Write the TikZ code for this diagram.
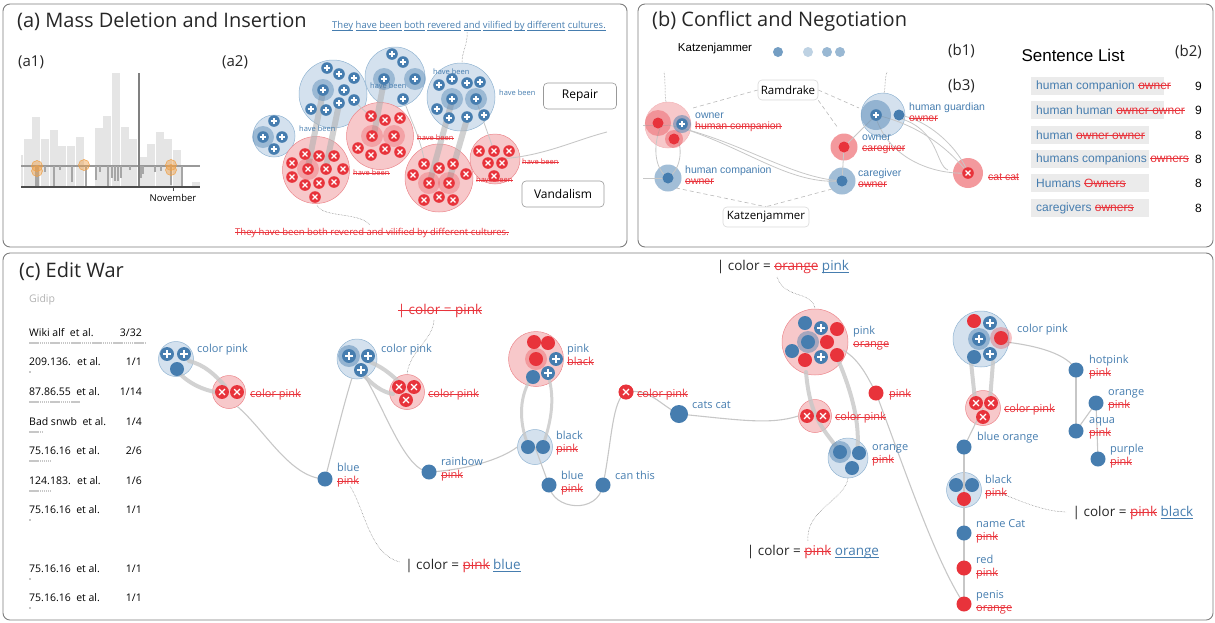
\documentclass[tikz,border=0pt]{standalone}
\usepackage{fontspec}
\setmainfont{Open Sans}
\newfontfamily\arialf{Liberation Sans}
\usetikzlibrary{calc}
\pgfdeclarelayer{back}
\pgfdeclarelayer{mid}
\pgfsetlayers{back,mid,main}
\definecolor{blueD}{RGB}{70,125,175}
\definecolor{redD}{RGB}{232,51,59}
\definecolor{bfill}{RGB}{212,225,238}
\definecolor{bline}{RGB}{145,180,210}
\definecolor{rfill}{RGB}{247,200,202}
\definecolor{rline}{RGB}{236,135,140}
\definecolor{orangeC}{RGB}{240,160,70}
\definecolor{frameC}{RGB}{125,125,125}
\newcommand\fsz[2]{\fontsize{#1}{#2}\selectfont}
\newcommand\bl[1]{{\color{blueD}#1}}
\newcommand\stk[1]{{\color{redD}\setbox0\hbox{#1}\rlap{\rule[0.28em]{\wd0}{0.07em}}\box0}}
\newcommand\uw[1]{{\setbox0\hbox{#1}\rlap{\rule[-0.2em]{\wd0}{0.07em}}\box0}}
\newcommand\ulb[1]{{\color{blueD}\uw{#1}}}
\tikzset{
 pp/.pic={\fill[blueD] (0,0) circle (5.8pt); \draw[white,line width=1.4pt] (-3.3pt,0)--(3.3pt,0) (0,-3.3pt)--(0,3.3pt);},
 px/.pic={\fill[redD] (0,0) circle (5.8pt); \draw[white,line width=1.3pt] (-2.4pt,-2.4pt)--(2.4pt,2.4pt) (-2.4pt,2.4pt)--(2.4pt,-2.4pt);},
}
\begin{document}
\begin{tikzpicture}[x=1pt,y=-1pt,
 panel/.style={draw=frameC, line width=0.9pt, rounded corners=7pt},
 ptitle/.style={font=\fsz{20}{22}, anchor=west, inner sep=0, text=black!85},
 sub/.style={font=\fsz{15}{17}, anchor=west, inner sep=0, text=black!85},
 bclus/.style={circle, fill=bfill, draw=bline, line width=0.5pt, inner sep=0},
 rclus/.style={circle, fill=rfill, draw=rline, line width=0.5pt, inner sep=0},
 bdot/.style={circle, fill=blueD, inner sep=0, minimum size=15pt},
 rdot/.style={circle, fill=redD, inner sep=0, minimum size=15pt},
 bandE/.style={draw=black!22, line width=4pt, opacity=.8, line cap=round},
 bandA/.style={draw=black!30, line width=6pt, opacity=.6, line cap=round},
 edgeT/.style={draw=black!22, line width=1.1pt},
 dotl/.style={draw=black!55, densely dotted, line width=0.5pt},
 dashl/.style={draw=black!28, dash pattern=on 4pt off 3pt, line width=0.6pt},
 lbox/.style={draw=black!40, rounded corners=4pt, fill=white, line width=0.6pt, font=\fsz{12}{14}, inner sep=0, text=black},
 lab/.style={font=\fsz{11}{13}, align=left, anchor=west, inner sep=0},
 labb/.style={font=\arialf\fsz{10.5}{11}, align=left, anchor=west, inner sep=0},
 hb/.style={font=\fsz{7.5}{8}, anchor=west, inner sep=0},
 ann/.style={font=\fsz{13.5}{15}, inner sep=0, text=black!85},
 slt/.style={font=\arialf\fsz{12}{14}, anchor=west, inner sep=0},
 lst/.style={font=\fsz{10.5}{12}, inner sep=0},
]
\useasboundingbox (0,0) rectangle (1215,622);
% ---------------- panels
\draw[panel] (3,4) rectangle (627,247);
\draw[panel] (638,4) rectangle (1213,247);
\draw[panel] (3,253) rectangle (1213,620);
\node[ptitle] (ta) at (17,21) {(a) Mass Deletion and Insertion};
\node[ptitle] (tb) at (652,21) {(b) Conflict and Negotiation};
\node[ptitle] (tc) at (19,271) {(c) Edit War};
\node[sub] (a1) at (18,62) {(a1)};
\node[sub] (a2) at (222,62) {(a2)};
% ---------------- (a1) chart
\fill[black!10] (21,155) rectangle (23,187);
\foreach \x/\t in {23.5/139,32.2/117,40.9/139,49.6/130,58.3/146,67/146,75.7/137,94.5/128,103.2/116,111.9/73,120.6/127,129.3/139,139.8/157,147/144,155.7/132,164.4/139,173.1/150,191.7/182}
  \fill[black!10] (\x,\t) rectangle ({\x+8},187);
\draw[black!40, line width=1.2pt] (21,166) -- (200,166);
\foreach \x/\b in {36/187,38/187,45/172,54/187,60/170,72/182,86/187,96/180,100/172,108/187,112/178,115/181,118/181,121/178,130/170,141/178,143/174,155/172,161/171,171/185,182/187}
  \draw[black!35, line width=1.2pt] (\x,166) -- (\x,\b);
\draw[black!50, line width=1.3pt] (139,73) -- (139,187);
\draw[black!70, line width=1.2pt] (21,187) -- (200,187);
\draw[black!70, line width=0.8pt] (173,187) -- (173,191);
\node[font=\fsz{9.5}{11}, inner sep=0] (nov) at (173,198) {November};
\foreach \x/\y in {37/166,37/171,84/165,171/165,171/170}
  \filldraw[fill=orangeC, fill opacity=.45, draw=orangeC, line width=0.5pt] (\x,\y) circle (5.5pt);
% ---------------- (a2) clusters
\node[bclus, minimum size=42pt] (B1) at (274,136) {};
\node[bclus, minimum size=68pt] (B2) at (333,94) {};
\node[bclus, minimum size=60pt] (B3) at (395,77) {};
\node[bclus, minimum size=68pt] (B4) at (461,97) {};
\node[rclus, minimum size=67pt] (R1) at (316,170) {};
\node[rclus, minimum size=67pt] (R2) at (380,136) {};
\node[rclus, minimum size=68pt] (R3) at (439,178) {};
\node[rclus, minimum size=50pt] (R4) at (495,159) {};
% bands and edges
\draw[bandA] (323,92) -- (308,167);
\draw[bandA] (339,104) -- (326,167);
\draw[bandA] (384,81) -- (374,134);
\draw[bandA] (452,101) -- (430,181);
\draw[bandA] (467,119) -- (449,181);
\draw[edgeT, line width=0.8pt] (354,101) -- (370,116);
\draw[edgeT, line width=0.8pt] (404,100) .. controls (410,120) and (420,135) .. (425,164);
\draw[edgeT, line width=0.8pt] (476,100) -- (494,151);
\draw[edgeT, line width=0.9pt] (R4.center) .. controls (540,158) and (575,140) .. (607,132);
% labels
\node[hb, text=blueD] (hb1) at (299,129) {have been};
\node[hb, text=blueD] (hb2) at (370,86) {have been};
\node[hb, text=blueD] (hb3) at (433,72) {have been};
\node[hb, text=blueD] (hb4) at (499,93) {have been};
\node[hb] (hr1) at (353,173) {\stk{have been}};
\node[hb] (hr2) at (417,138) {\stk{have been}};
\node[hb] (hr3) at (522,162) {\stk{have been}};
\node[hb] (hr4) at (476,180) {\stk{have been}};
% halos
\foreach \x/\y in {263/137,323/90,384/79,415/79,452/99,476/99}
  \fill[blueD, opacity=.4] (\x,\y) circle (11pt);
\foreach \x/\y in {308/169,372/136,394/136,429/183,449/183}
  \fill[redD, opacity=.25] (\x,\y) circle (11pt);
% plus dots
\foreach \x/\y in {274/121,263/137,282/137,274/149,
  327/68,339/74,354/78,323/90,344/90,354/100,339/103,311/109,326/110,
  392/54,403/62,384/79,415/79,403/99,
  439/85,452/79,467/83,480/82,452/99,476/99,437/109,449/118,467/117,484/115}
  \pic at (\x,\y) {pp};
% x dots
\foreach \x/\y in {305/154,319/156,334/156,292/163,308/169,326/169,343/169,292/177,305/185,319/183,334/182,315/197,
  371/116,385/120,400/118,372/136,394/136,358/148,371/155,385/149,400/152,
  424/164,439/168,453/164,413/175,466/174,429/183,449/183,424/200,439/197,453/200,
  479/151,494/151,509/151,488/163,502/163,494/176}
  \pic at (\x,\y) {px};
% sentences
\node[font=\fsz{9.5}{11}, text=blueD, inner sep=0] (sTop) at (469,26) {\uw{They} \uw{have} \uw{been} \uw{both} \uw{revered} \uw{and} \uw{vilified} \uw{by} \uw{different} \uw{cultures.}};
\node[font=\fsz{9.5}{11}, inner sep=0] (sBot) at (372,233) {\stk{They have been both revered and vilified by different cultures.}};
\draw[dotl] (467,32) .. controls (468,45) and (462,50) .. (462,63);
\draw[dotl] (317,205) .. controls (322,218) and (360,212) .. (370,225);
\node[lbox, minimum width=73pt, minimum height=26pt] (rep) at (580,96) {Repair};
\node[lbox, minimum width=82pt, minimum height=26pt] (van) at (563,194) {Vandalism};
% ---------------- (b)
\node[font=\arialf\fsz{11.5}{13}, inner sep=0] (kz) at (715,49) {Katzenjammer};
\fill[blueD, opacity=.75] (778,52) circle (5pt);
\fill[blueD, opacity=.35] (808,52) circle (5pt);
\fill[blueD, opacity=.55] (827,52) circle (5pt);
\fill[blueD, opacity=.55] (840,52) circle (5pt);
\node[sub] (b1) at (948,51) {(b1)};
\node[sub] (b3) at (948,86) {(b3)};
\node[sub] (b2) at (1175,52) {(b2)};
\node[font=\arialf\fsz{17}{19}, inner sep=0] (sl) at (1073,55) {Sentence List};
% sentence list rows
\foreach \y/\r in {86/1164,110/1164,135/1149,159/1149,183/1149,208/1149}
  \fill[black!8] (1031,{\y-9}) rectangle (\r,{\y+9});
\node[slt] (r1) at (1036,86) {\bl{human companion} \stk{owner}};
\node[slt] (r2) at (1036,110) {\bl{human human} \stk{owner owner}};
\node[slt] (r3) at (1036,135) {\bl{human} \stk{owner owner}};
\node[slt] (r4) at (1036,159) {\bl{humans companions} \stk{owners}};
\node[slt] (r5) at (1036,183) {\bl{Humans} \stk{Owners}};
\node[slt] (r6) at (1036,208) {\bl{caregivers} \stk{owners}};
\node[slt] (c1) at (1195,86) {9};
\node[slt] (c2) at (1195,110) {9};
\node[slt] (c3) at (1195,135) {8};
\node[slt] (c4) at (1195,159) {8};
\node[slt] (c5) at (1195,183) {8};
\node[slt] (c6) at (1195,208) {8};
% graph (b)
\begin{pgfonlayer}{back}
\node[rclus, minimum size=46pt, draw=rline!60] (L) at (668,125) {};
\node[circle, fill=blueD, opacity=.5, minimum size=27pt, inner sep=0] (HC) at (668,178) {};
\node[circle, fill=redD, opacity=.5, minimum size=27pt, inner sep=0] (OC) at (844,147) {};
\node[circle, fill=blueD, opacity=.5, minimum size=27pt, inner sep=0] (CO) at (842,181) {};
\node[bclus, minimum size=44pt] (HG) at (883,115) {};
\node[circle, fill=redD, opacity=.5, minimum size=30pt, inner sep=0] (CC) at (968,173) {};
\end{pgfonlayer}
\node[lbox, minimum width=60pt, minimum height=20pt, font=\fsz{11.5}{13}, draw=black!15] (ram) at (788,90) {Ramdrake};
\node[lbox, minimum width=86pt, minimum height=20pt, font=\fsz{11.5}{13}, draw=black!15] (kat) at (766,217) {Katzenjammer};
\begin{pgfonlayer}{mid}
\draw[dashl] (ram.west) -- (693,108);
\draw[dashl] (ram.east) -- (859,108);
\draw[dashl] (ram.south east) -- (838,128);
\draw[dashl] (676,188) -- (kat.north);
\draw[dashl] (832,189) -- (kat.north);
\draw[dotl] (666,102) .. controls (664,90) and (666,82) .. (664,72);
\draw[dotl] (884,93) .. controls (886,85) and (884,80) .. (887,72);
\draw[edgeT, line width=0.8pt] (L.center) .. controls (740,140) and (790,178) .. (CO.center);
\draw[edgeT, line width=0.8pt] (682,128) .. controls (750,150) and (790,185) .. (CO.center);
\draw[edgeT, line width=0.8pt] (660,128) .. controls (652,150) and (656,170) .. (HC.center);
\draw[edgeT, line width=0.8pt] (676,135) .. controls (684,150) and (680,170) .. (HC.center);
\draw[edgeT, line width=0.8pt] (643,125) -- (L.center);
\draw[edgeT, line width=0.8pt] (643,178) -- (HC.center);
\draw[edgeT, line width=0.8pt] (OC.center) -- (CO.center);
\draw[edgeT, line width=0.8pt] (OC.center) -- (876,115);
\draw[edgeT, line width=0.8pt] (876,115) .. controls (920,125) and (950,150) .. (CC.center);
\draw[edgeT, line width=0.8pt] (899,115) .. controls (930,120) and (960,150) .. (CC.center);
\draw[edgeT, line width=0.8pt] (876,118) .. controls (890,160) and (935,175) .. (CC.center);
\draw[edgeT, line width=0.8pt] (899,118) .. controls (940,130) and (935,165) .. (948,170);
\end{pgfonlayer}
% dots (b)
\fill[redD, opacity=.35] (658,123) circle (13pt);
\fill[redD] (658,123) circle (5.5pt);
\fill[redD, opacity=.35] (674,139) circle (9pt);
\fill[redD] (674,139) circle (5.5pt);
\fill[blueD, opacity=.5] (682,124) circle (9pt);
\pic at (682,124) {pp};
\fill[blueD] (HC) circle (5.5pt);
\fill[redD] (OC) circle (5.5pt);
\fill[blueD] (CO) circle (5.5pt);
\fill[blueD, opacity=.45] (876,115) circle (15pt);
\pic at (876,115) {pp};
\fill[blueD] (899,115) circle (5.5pt);
\pic at (CC) {px};
\node[labb] (Ll) at (695,122.5) {\bl{owner}\\\stk{human companion}};
\node[labb] (HCl) at (685,175.5) {\bl{human companion}\\\stk{owner}};
\node[labb] (OCl) at (862,144) {\bl{owner}\\\stk{caregiver}};
\node[labb] (COl) at (858,178.5) {\bl{caregiver}\\\stk{owner}};
\node[labb] (HGl) at (909,112) {\bl{human guardian}\\\stk{owner}};
\node[labb] (CCl) at (988,177) {\stk{cat cat}};
% ---------------- (c) list
\node[font=\fsz{10.5}{12}, text=black!30, anchor=west, inner sep=0] (gid) at (29,300) {Gidip};
\foreach \i/\t/\a/\b/\y/\l in {1/Wiki alf~ et al./3/32/333/117,2/209.136.~ et al./1/1/362/2,3/87.86.55~ et al./1/14/392/51,4/Bad snwb~ et al./1/4/422/14,5/75.16.16~ et al./2/6/451/22,6/124.183.~ et al./1/6/481/22,7/75.16.16~ et al./1/1/510/2,8/75.16.16~ et al./1/1/569/2,9/75.16.16~ et al./1/1/598/2}{
  \node[lst, anchor=west] (u\i) at (29,\y) {\t};
  \node[lst, anchor=east] (v\i) at (142,\y) {\a/\b};
  \draw[black!22, line width=2pt, dash pattern=on 1.5pt off 0.6pt] (29,{\y+10}) -- ++(\l,0);
}
% ---------------- (c) graph
\begin{pgfonlayer}{back}
\node[bclus, minimum size=35pt] (N1) at (176,359) {};
\node[rclus, minimum size=33pt] (N2) at (229,392) {};
\node[bclus, minimum size=40pt] (N4) at (357,359) {};
\node[rclus, minimum size=35pt] (N5) at (407,392) {};
\node[rclus, minimum size=55pt] (N7) at (536,359) {};
\node[bclus, minimum size=35pt] (N8) at (535,447) {};
\node[rclus, minimum size=66pt] (N13) at (815,342) {};
\node[rclus, minimum size=33pt] (N15) at (815,416) {};
\node[bclus, minimum size=40pt] (N16) at (848,458) {};
\node[bclus, minimum size=56pt] (N17) at (981,339) {};
\node[rclus, minimum size=35pt] (N18) at (983,408) {};
\node[bclus, minimum size=35pt] (N20) at (964,490) {};
\end{pgfonlayer}
\node[bdot] (N3) at (325,479) {};
\node[bdot] (N6) at (429,472) {};
\node[bdot] (N9) at (549,485) {};
\node[bdot] (N10) at (603,485) {};
\node[rdot] (N11) at (626,392) {};
\node[bdot, minimum size=18pt] (N12) at (679,414) {};
\node[rdot] (N14) at (876,393) {};
\node[bdot] (N19) at (964,447) {};
\node[bdot] (N21) at (964,533) {};
\node[rdot] (N22) at (964,568) {};
\node[rdot] (N23) at (964,604) {};
\node[bdot] (N24) at (1076,370) {};
\node[bdot] (N25) at (1096,403) {};
\node[bdot] (N26) at (1076,431) {};
\node[bdot] (N27) at (1098,459) {};
\begin{pgfonlayer}{mid}
% bands
\draw[bandE] (189,361) .. controls (205,365) and (215,375) .. (225,386);
\draw[bandE] (177,371) .. controls (190,385) and (205,390) .. (215,392);
\draw[bandE] (370,362) .. controls (385,368) and (395,378) .. (402,385);
\draw[bandE] (361,372) .. controls (372,385) and (382,392) .. (393,394);
\draw[bandE, line width=3pt] (530,380) .. controls (518,400) and (520,425) .. (528,445);
\draw[bandE, line width=3pt] (548,375) .. controls (556,400) and (550,425) .. (543,445);
\draw[bandE] (806,372) .. controls (810,420) and (825,430) .. (840,452);
\draw[bandE] (839,362) .. controls (855,400) and (860,430) .. (857,452);
\draw[bandE] (971,362) -- (975,400);
\draw[bandE] (993,362) -- (990,400);
% thin edges
\draw[edgeT] (N2.-60) .. controls (265,430) and (290,478) .. (N3.center);
\draw[edgeT] (N3.center) .. controls (335,440) and (345,400) .. (352,378);
\draw[edgeT] (365,377) .. controls (385,410) and (405,470) .. (N6.center);
\draw[edgeT] (N6.center) .. controls (465,470) and (500,460) .. (N8.west);
\draw[edgeT] (N8.center) -- (N9.center);
\draw[edgeT] (N9.center) .. controls (552,510) and (598,515) .. (N10.center);
\draw[edgeT] (N10.center) .. controls (612,440) and (612,400) .. (N11.center);
\draw[edgeT] (N11.center) .. controls (650,388) and (660,405) .. (N12.center);
\draw[edgeT] (N12.center) .. controls (740,420) and (770,425) .. (N15.west);
\draw[edgeT] (843,350) .. controls (860,360) and (868,378) .. (N14.center);
\draw[edgeT] (N14.center) .. controls (905,470) and (935,560) .. (N23.center);
\draw[edgeT] (996,341) .. controls (1040,345) and (1068,355) .. (N24.center);
\draw[edgeT] (N24.center) -- (N26.center);
\draw[edgeT] (N26.center) -- (N25.center);
\draw[edgeT] (N25.center) -- (N27.center);
\draw[edgeT] (N18.center) -- (N19.center);
\draw[edgeT] (N19.center) -- (N20.center);
\draw[edgeT] (N20.center) -- (N21.center);
\draw[edgeT] (N21.center) -- (N22.center);
\draw[edgeT] (N22.center) -- (N23.center);
\end{pgfonlayer}
% dots in clusters (c)
\pic[scale=1.2] at (167,354) {pp}; \pic[scale=1.2] at (184,354) {pp};
\fill[blueD] (177,369) circle (7pt);
\pic[scale=1.2] at (222,392) {px}; \pic[scale=1.2] at (237,392) {px};
\fill[blueD, opacity=.45] (349,356) circle (11pt);
\pic[scale=1.2] at (349,356) {pp}; \pic[scale=1.2] at (368,356) {pp}; \pic[scale=1.2] at (361,370) {pp};
\pic[scale=1.2] at (399,387) {px}; \pic[scale=1.2] at (414,387) {px}; \pic[scale=1.2] at (406,400) {px};
\fill[redD] (534,342) circle (7pt); \fill[redD] (548,343) circle (7pt);
\fill[redD, opacity=.3] (536,359) circle (11pt); \fill[redD] (536,359) circle (7pt);
\pic[scale=1.2] at (556,359) {pp}; \fill[blueD] (533,377) circle (7pt); \pic[scale=1.2] at (548,373) {pp};
\fill[blueD] (528,447) circle (7pt); \fill[blueD] (543,447) circle (7pt);
\pic[scale=1.25] at (N11) {px};
\fill[blueD] (805,323) circle (7pt); \pic[scale=1.2] at (821,328) {pp}; \fill[redD] (837,329) circle (7pt);
\fill[blueD, opacity=.45] (808,342) circle (11pt); \fill[blueD] (808,342) circle (7pt);
\fill[redD] (827,342) circle (7pt); \fill[blueD] (792,351) circle (7pt); \fill[redD] (805,360) circle (7pt);
\pic[scale=1.2] at (821,357) {pp}; \fill[redD] (837,355) circle (7pt);
\pic[scale=1.2] at (807,416) {px}; \pic[scale=1.2] at (823,416) {px};
\fill[blueD, opacity=.45] (840,452) circle (11pt); \fill[blueD] (840,452) circle (7pt);
\fill[blueD] (859,453) circle (7pt); \fill[blueD] (852,468) circle (7pt);
\fill[redD] (974,321) circle (7pt); \pic[scale=1.2] at (990,323) {pp};
\fill[blueD, opacity=.45] (979,339) circle (11pt); \pic[scale=1.2] at (979,339) {pp};
\fill[redD, opacity=.3] (1001,338) circle (11pt); \fill[redD] (1001,338) circle (7pt);
\fill[blueD] (974,357) circle (7pt); \pic[scale=1.2] at (990,354) {pp};
\pic[scale=1.2] at (976,403) {px}; \pic[scale=1.2] at (991,403) {px}; \pic[scale=1.2] at (983,417) {px};
\fill[blueD] (956,485) circle (7pt); \fill[blueD] (972,485) circle (7pt); \fill[redD] (964,499) circle (7pt);
% labels (c)
\node[lab] (N1l) at (197,350) {\bl{color pink}};
\node[lab] (N2l) at (250,395) {\stk{color pink}};
\node[lab] (N3l) at (337,475) {\bl{blue}\\\stk{pink}};
\node[lab] (N4l) at (381,350) {\bl{color pink}};
\node[lab] (N5l) at (428,395) {\stk{color pink}};
\node[lab] (N6l) at (441,469) {\bl{rainbow}\\\stk{pink}};
\node[lab] (N7l) at (567,355) {\bl{pink}\\\stk{black}};
\node[lab] (N8l) at (556,443) {\bl{black}\\\stk{pink}};
\node[lab] (N9l) at (561,483) {\bl{blue}\\\stk{pink}};
\node[lab] (N10l) at (615,475) {\bl{can this}};
\node[lab] (N11l) at (637,395) {\stk{color pink}};
\node[lab] (N12l) at (692,405) {\bl{cats cat}};
\node[lab] (N13l) at (853,338) {\bl{pink}\\\stk{orange}};
\node[lab] (N14l) at (889,395) {\stk{pink}};
\node[lab] (N15l) at (835,418) {\stk{color pink}};
\node[lab] (N16l) at (872,455) {\bl{orange}\\\stk{pink}};
\node[lab] (N17l) at (1017,330) {\bl{color pink}};
\node[lab] (N18l) at (1004,410) {\stk{color pink}};
\node[lab] (N19l) at (977,438) {\bl{blue orange}};
\node[lab] (N20l) at (985,487) {\bl{black}\\\stk{pink}};
\node[lab] (N21l) at (976,531) {\bl{name Cat}\\\stk{pink}};
\node[lab] (N22l) at (976,567) {\bl{red}\\\stk{pink}};
\node[lab] (N23l) at (976,602) {\bl{penis}\\\stk{orange}};
\node[lab] (N24l) at (1089,367) {\bl{hotpink}\\\stk{pink}};
\node[lab] (N25l) at (1108,400) {\bl{orange}\\\stk{pink}};
\node[lab] (N26l) at (1089,428) {\bl{aqua}\\\stk{pink}};
\node[lab] (N27l) at (1110,456) {\bl{purple}\\\stk{pink}};
% annotations
\node[ann] (A1) at (440,311) {\stk{| color = pink}};
\node[ann] (A2) at (783,267) {| color = \stk{orange} \ulb{pink}};
\node[ann] (A3) at (813,552) {| color = \stk{pink} \ulb{orange}};
\node[ann] (A4) at (1133,513) {| color = \stk{pink} \ulb{black}};
\node[ann] (A5) at (463,566) {| color = \stk{pink} \ulb{blue}};
\draw[dotl] (434,320) .. controls (433,340) and (410,350) .. (N5.north);
\draw[dotl] (777,277) .. controls (785,300) and (812,290) .. (N13.north);
\draw[dotl] (N16.south) .. controls (845,500) and (805,510) .. (808,541);
\draw[dotl] (1000,493) .. controls (1030,505) and (1045,511) .. (1066,512);
\draw[dotl] (350,486) .. controls (365,510) and (370,555) .. (400,562);
\end{tikzpicture}
\end{document}
